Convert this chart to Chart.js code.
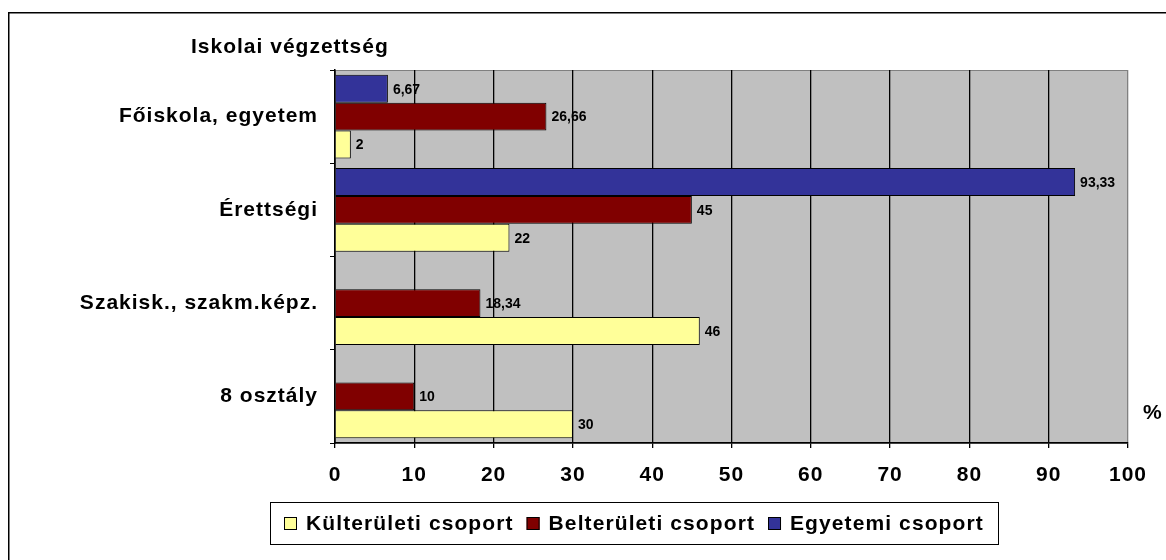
<!DOCTYPE html>
<html>
<head>
<meta charset="utf-8">
<script src="https://cdn.jsdelivr.net/npm/chart.js@4/dist/chart.umd.min.js"></script>
<style>
  html, body { margin: 0; padding: 0; background: #fff; }
  #wrap { position: relative; width: 1166px; height: 560px; }
</style>
</head>
<body>
<div id="wrap"><canvas id="chart" width="1166" height="560"></canvas></div>
<script>
"use strict";

// categories top to bottom
const categories = ["Főiskola, egyetem", "Érettségi", "Szakisk., szakm.képz.", "8 osztály"];

// series (drawn top to bottom inside each group)
const egyetemi = [6.67, 93.33, null, null];
const belteruleti = [26.66, 45, 18.34, 10];
const kulteruleti = [2, 22, 46, 30];

const xTicks = [0, 10, 20, 30, 40, 50, 60, 70, 80, 90, 100];

const FONT = "'Liberation Sans', Arial, sans-serif";
const SPACING = "1px";

// background, borders, titles, value labels and legend
const decor = {
    id: "decor",
    beforeLayout(chart) {
        chart.ctx.letterSpacing = SPACING;
    },
    beforeDraw(chart) {
        const ctx = chart.ctx, a = chart.chartArea;
        ctx.save();
        ctx.fillStyle = "#ffffff";
        ctx.fillRect(0, 0, chart.width, chart.height);
        ctx.fillStyle = "#C0C0C0";
        ctx.fillRect(a.left, a.top, a.right - a.left, a.bottom - a.top);
        ctx.strokeStyle = "#808080";
        ctx.lineWidth = 1;
        ctx.strokeRect(a.left + 0.5, a.top + 0.5, a.right - a.left - 1, a.bottom - a.top);
        ctx.restore();
        ctx.letterSpacing = SPACING;
    },
    afterDatasetsDraw(chart) {
        const ctx = chart.ctx;
        ctx.save();
        ctx.letterSpacing = "0px";
        ctx.font = "bold 14px " + FONT;
        ctx.fillStyle = "#000";
        ctx.textBaseline = "middle";
        ctx.textAlign = "left";
        chart.data.datasets.forEach((ds, i) => {
            chart.getDatasetMeta(i).data.forEach((el, j) => {
                const v = ds.data[j];
                if (v === null) return;
                ctx.fillText(String(v).replace(".", ","), el.x + 5, el.y + 1);
            });
        });
        ctx.restore();
    },
    afterDraw(chart) {
        const ctx = chart.ctx;
        ctx.save();
        ctx.letterSpacing = SPACING;
        ctx.fillStyle = "#000";
        ctx.font = "bold 21px " + FONT;
        ctx.textBaseline = "middle";
        ctx.textAlign = "left";
        ctx.fillText("Iskolai végzettség", 191, 47);
        ctx.fillText("%", 1143, 413);

        // outer frame
        ctx.strokeStyle = "#000";
        ctx.lineWidth = 1.5;
        ctx.strokeRect(8.75, 12.75, 1200, 600);

        // legend, in reverse dataset order
        ctx.letterSpacing = "1.1px";
        const items = chart.data.datasets.slice().reverse();
        const top = 502, bottom = 544, mid = 523;
        let x = 284;
        ctx.lineWidth = 1;
        ctx.strokeRect(270.5, top + 0.5, 728, bottom - top);
        items.forEach(ds => {
            ctx.fillStyle = ds.backgroundColor;
            ctx.fillRect(x, mid - 6, 13, 13);
            ctx.strokeStyle = "#000";
            ctx.strokeRect(x + 0.5, mid - 5.5, 12, 12);
            ctx.fillStyle = "#000";
            ctx.fillText(ds.label, x + 22, mid + 1);
            x += 22 + ctx.measureText(ds.label).width + 13;
        });
        ctx.restore();
    }
};

new Chart(document.getElementById("chart"), {
    type: "bar",
    data: {
        labels: categories,
        datasets: [
            { label: "Egyetemi csoport", data: egyetemi, backgroundColor: "#333399" },
            { label: "Belterületi csoport", data: belteruleti, backgroundColor: "#800000" },
            { label: "Külterületi csoport", data: kulteruleti, backgroundColor: "#FFFF99" }
        ]
    },
    options: {
        indexAxis: "y",
        responsive: false,
        animation: false,
        layout: { padding: { left: 0, right: 38, top: 70, bottom: 0 } },
        datasets: {
            bar: {
                borderColor: "#000",
                borderWidth: 1,
                categoryPercentage: 0.9,
                barPercentage: 1.0
            }
        },
        font: { family: FONT, size: 21, weight: "bold" },
        plugins: {
            legend: { display: false },
            tooltip: { enabled: false }
        },
        scales: {
            x: {
                min: 0,
                max: 100,
                afterFit: s => { s.height = 117; },
                afterBuildTicks: s => { s.ticks = xTicks.map(v => ({ value: v })); },
                border: { color: "#000", width: 1.5 },
                grid: {
                    color: c => (c.tick && c.tick.value === 100 ? "#808080" : "#000"),
                    tickColor: "#000",
                    tickLength: 5,
                    lineWidth: 1.3
                },
                ticks: {
                    color: "#000",
                    padding: 15,
                    font: { family: FONT, size: 21, weight: "bold" }
                }
            },
            y: {
                afterFit: s => { s.width = 335; },
                border: { color: "#000", width: 1.5 },
                grid: {
                    offset: true,
                    drawOnChartArea: false,
                    color: "#000",
                    tickLength: 5
                },
                ticks: {
                    color: "#000",
                    padding: 12,
                    font: { family: FONT, size: 21, weight: "bold" }
                }
            }
        }
    },
    plugins: [decor]
});
</script>
</body>
</html>
